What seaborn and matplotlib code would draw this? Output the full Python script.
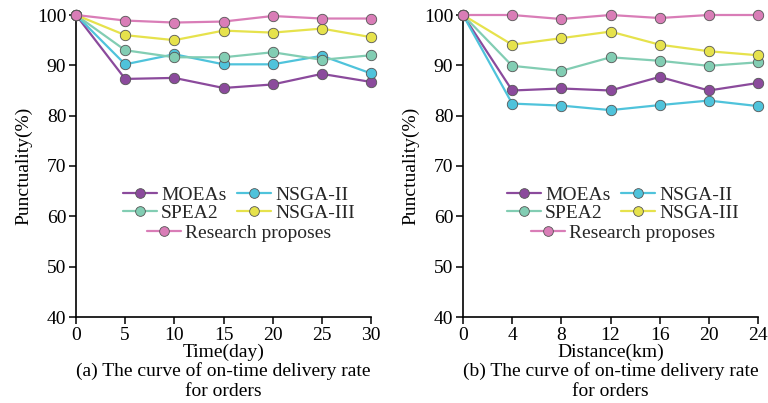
import matplotlib
matplotlib.use("Agg")
import matplotlib.pyplot as plt
import seaborn as sns
import pandas as pd
from matplotlib.lines import Line2D

methods = ["MOEAs", "NSGA-II", "SPEA2", "NSGA-III", "Research proposes"]
colors = ["#8B4A9C", "#4FC3DB", "#82CDB3", "#E6E24C", "#D97DB7"]

time_x = [0, 5, 10, 15, 20, 25, 30]
time_vals = {
    "MOEAs":             [100, 87.3, 87.5, 85.5, 86.2, 88.3, 86.7],
    "NSGA-II":           [100, 90.2, 92.2, 90.2, 90.2, 91.9, 88.4],
    "SPEA2":             [100, 93.0, 91.6, 91.6, 92.6, 91.1, 92.0],
    "NSGA-III":          [100, 96.0, 95.0, 96.9, 96.5, 97.3, 95.6],
    "Research proposes": [100, 98.9, 98.5, 98.7, 99.8, 99.3, 99.3],
}

dist_x = [0, 4, 8, 12, 16, 20, 24]
dist_vals = {
    "MOEAs":             [100, 85.0, 85.4, 85.0, 87.7, 85.0, 86.5],
    "NSGA-II":           [100, 82.4, 82.0, 81.1, 82.1, 83.0, 81.9],
    "SPEA2":             [100, 89.9, 88.9, 91.6, 90.9, 89.9, 90.6],
    "NSGA-III":          [100, 94.1, 95.4, 96.7, 94.1, 92.8, 92.0],
    "Research proposes": [100, 100, 99.2, 100, 99.4, 100, 100],
}

sns.set_theme(style="ticks")
plt.rcParams["font.family"] = ["Liberation Serif", "DejaVu Serif"]

FS = 14

fig = plt.figure(figsize=(7.68, 4.03), dpi=100)
ax1 = fig.add_axes([76/768, 1-317/403, 295/768, 302/403])
ax2 = fig.add_axes([463/768, 1-317/403, 295/768, 302/403])

def long_df(x, vals):
    rows = []
    for m in methods:
        for xi, v in zip(x, vals[m]):
            rows.append({"x": xi, "y": v, "method": m})
    return pd.DataFrame(rows)

palette = dict(zip(methods, colors))

def draw(ax, x, vals, xlabel, caption, legx):
    df = long_df(x, vals)
    sns.lineplot(data=df, x="x", y="y", hue="method", hue_order=methods,
                 palette=palette, marker="o", markersize=7.5, linewidth=1.6,
                 markeredgecolor="#555555", markeredgewidth=0.6, ax=ax,
                 legend=False, clip_on=False, zorder=3)
    ax.set_xlim(x[0], x[-1])
    ax.set_ylim(40, 100)
    ax.set_xticks(x)
    ax.set_yticks([40, 50, 60, 70, 80, 90, 100])
    for s in ["top", "right"]:
        ax.spines[s].set_visible(False)
    for s in ["left", "bottom"]:
        ax.spines[s].set_color("black")
        ax.spines[s].set_linewidth(1.2)
    ax.tick_params(axis="both", direction="out", length=5, width=1.1,
                   colors="black", labelsize=FS, pad=2)
    ax.set_xlabel(xlabel, fontsize=FS, labelpad=0, color="black")
    ax.set_ylabel("Punctuality(%)", fontsize=FS, labelpad=3, color="black")
    ax.text(0.5, -0.15, caption, transform=ax.transAxes, ha="center",
            va="top", fontsize=FS, linespacing=1.22, color="black")
    handles = [Line2D([0], [0], color=c, marker="o", markersize=7,
                      markeredgecolor="#555555", markeredgewidth=0.6,
                      linewidth=1.6) for c in colors]
    # column-first fill: col1 = MOEAs, SPEA2 ; col2 = NSGA-II, NSGA-III
    order = [0, 2, 1, 3]
    leg1 = ax.legend([handles[i] for i in order], [methods[i] for i in order],
                     ncol=2, frameon=False, fontsize=FS, loc="center",
                     bbox_to_anchor=(legx, 0.374),
                     handlelength=1.75, handletextpad=0.2, columnspacing=0.55,
                     labelspacing=0.0, borderpad=0)
    ax.add_artist(leg1)
    ax.legend(handles[4:], methods[4:], frameon=False, fontsize=FS,
              loc="center", bbox_to_anchor=(legx, 0.278),
              handlelength=1.75, handletextpad=0.2, borderpad=0)

draw(ax1, time_x, time_vals, "Time(day)",
     "(a) The curve of on-time delivery rate\nfor orders", 0.553)
draw(ax2, dist_x, dist_vals, "Distance(km)",
     "(b) The curve of on-time delivery rate\nfor orders", 0.542)

fig.savefig("out.png", dpi=100)
